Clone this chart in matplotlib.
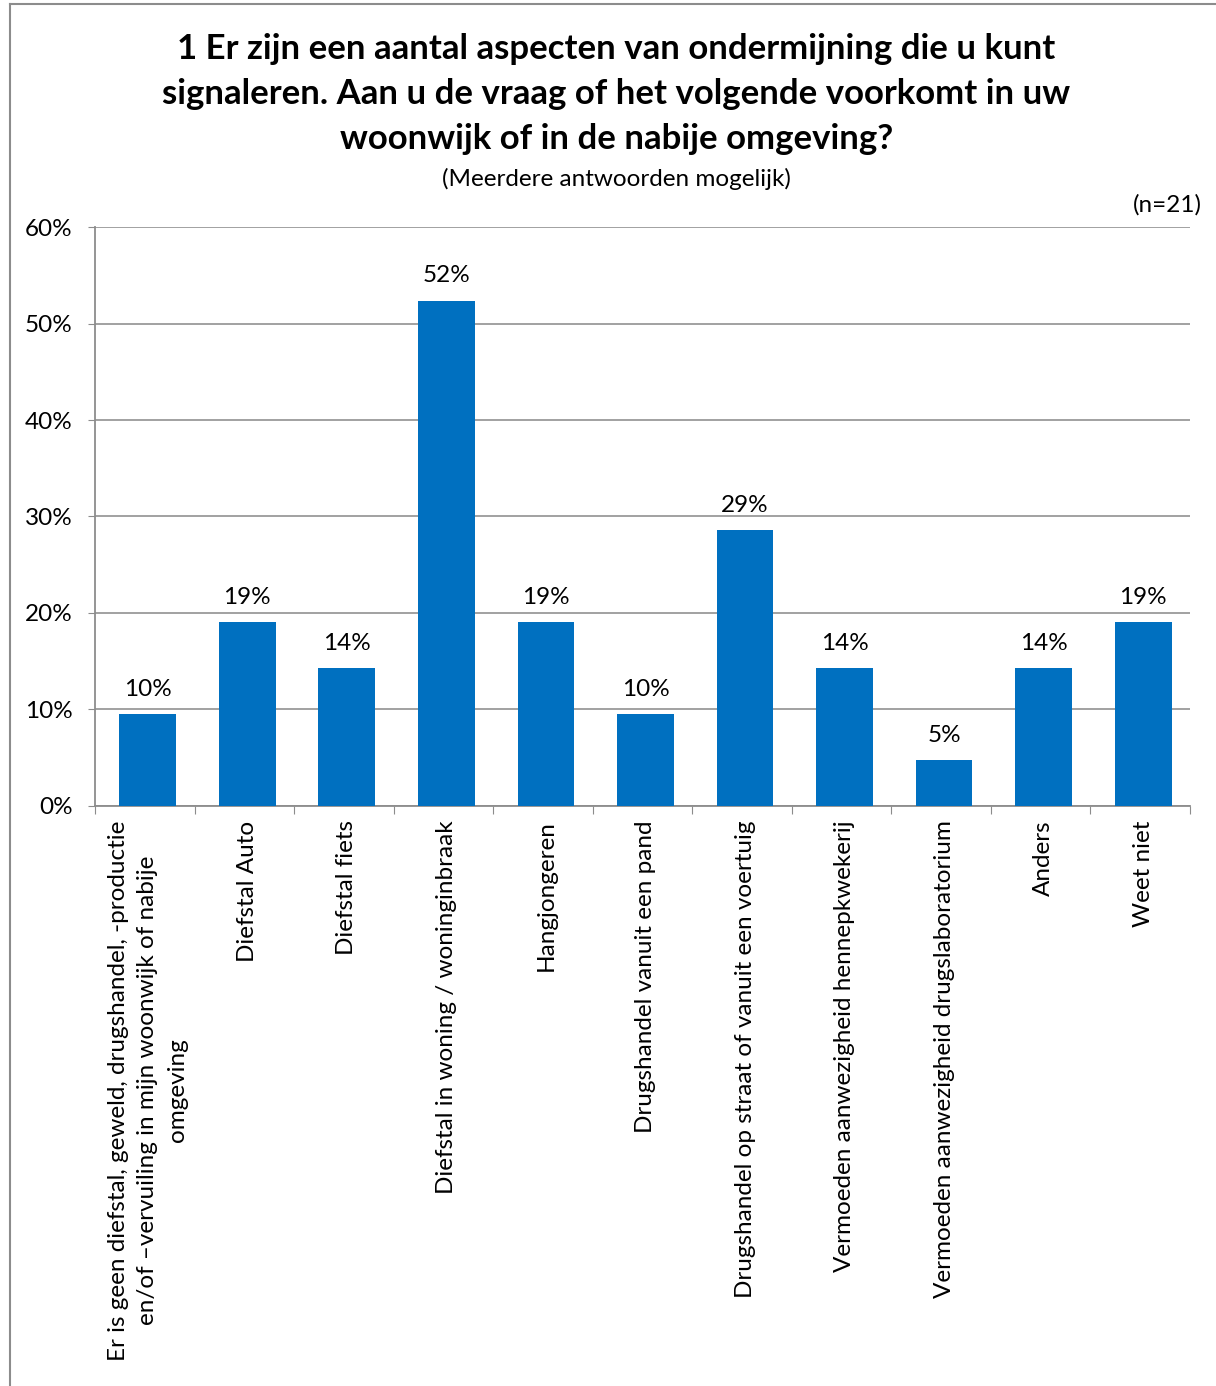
import matplotlib
matplotlib.use('agg')
import matplotlib.pyplot as plt
import numpy as np

# gegevens (n=21)
categorieen = [
    "Er is geen diefstal, geweld, drugshandel, -productie\nen/of \u2013vervuiling in mijn woonwijk of nabije\nomgeving",
    "Diefstal Auto",
    "Diefstal fiets",
    "Diefstal in woning / woninginbraak",
    "Hangjongeren",
    "Drugshandel vanuit een pand",
    "Drugshandel op straat of vanuit een voertuig",
    "Vermoeden aanwezigheid hennepkwekerij",
    "Vermoeden aanwezigheid drugslaboratorium",
    "Anders",
    "Weet niet",
]
aantallen = [2, 4, 3, 11, 4, 2, 6, 3, 1, 3, 4]
n = 21
percentages = [a / n * 100 for a in aantallen]
y_ticks = [0, 10, 20, 30, 40, 50, 60]

plt.rcParams['font.family'] = ['Lato', 'DejaVu Sans']

fig = plt.figure(figsize=(12.16, 13.86), dpi=100)
ax = fig.add_axes([0.0781, 0.4185, 0.9005, 0.4177])

x = np.arange(len(categorieen))
bars = ax.bar(x + 0.03, percentages, width=0.57, color='#0070C0', zorder=3)

ax.set_xlim(-0.5, len(categorieen) - 0.5)
ax.set_ylim(0, 60)
ax.set_yticks(y_ticks)
ax.set_yticklabels([f"{t}%" for t in y_ticks], fontsize=17.5)
ax.yaxis.grid(True, color='#9a9a9a', linewidth=1.3, zorder=0)
ax.tick_params(axis='y', length=5, color='#8c8c8c', pad=11)

# x-ticks op de grenzen tussen categorieen
ax.set_xticks(np.arange(-0.5, len(categorieen), 1.0), minor=False)
ax.set_xticklabels([])
ax.tick_params(axis='x', length=6, color='#8c8c8c')
for i, lab in enumerate(categorieen):
    ax.text(i + 0.03, -1.5, lab, rotation=90, ha='center', va='top',
            multialignment='center', fontsize=17.5, linespacing=1.5)

for s in ['top', 'right']:
    ax.spines[s].set_visible(False)
for s in ['left', 'bottom']:
    ax.spines[s].set_color('#8c8c8c')
    ax.spines[s].set_linewidth(1.3)

for b, p in zip(bars, percentages):
    ax.text(b.get_x() + b.get_width() / 2, p + 1.5, f"{p:.0f}%",
            ha='center', va='bottom', fontsize=17.5)

fig.text(0.507, 0.9322,
         "1 Er zijn een aantal aspecten van ondermijning die u kunt\n"
         "signaleren. Aan u de vraag of het volgende voorkomt in uw\n"
         "woonwijk of in de nabije omgeving?",
         ha='center', va='center', fontsize=25, fontweight='bold', linespacing=1.5)
fig.text(0.507, 0.871, "(Meerdere antwoorden mogelijk)", ha='center',
         va='center', fontsize=17.5)
fig.text(0.988, 0.852, "(n=21)", ha='right', va='center', fontsize=17.5)

# kader
fig.add_artist(plt.Line2D([0.0085, 0.0085], [0, 0.997], transform=fig.transFigure,
                          color='#8c8c8c', linewidth=1.5))
fig.add_artist(plt.Line2D([0.0085, 1.0], [0.997, 0.997], transform=fig.transFigure,
                          color='#8c8c8c', linewidth=1.5))

fig.savefig('out.png', dpi=100)
